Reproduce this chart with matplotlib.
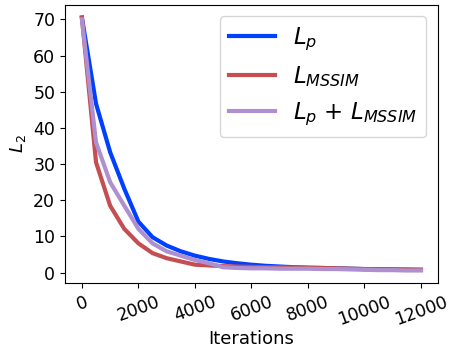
import numpy as np
import matplotlib.pyplot as plt

iters = [0, 500, 1000, 1500, 2000, 2500, 3000, 3500, 4000, 4500, 5000, 5500, 6000,
         6500, 7000, 7500, 8000, 8500, 9000, 9500, 10000, 10500, 11000, 11500, 12000]

loss_p = [70.5, 46.7, 33.3, 23.2, 14.1, 9.8, 7.5, 5.9, 4.7, 3.8, 3.1, 2.6, 2.2,
          1.9, 1.7, 1.5, 1.4, 1.3, 1.2, 1.1, 1.0, 0.9, 0.9, 0.8, 0.8]
loss_mssim = [70.5, 30.5, 18.5, 12.1, 8.1, 5.4, 4.0, 3.1, 2.2, 2.0, 1.8, 1.7, 1.6,
              1.5, 1.5, 1.4, 1.3, 1.3, 1.2, 1.1, 1.0, 1.0, 0.9, 0.9, 0.8]
loss_both = [70.0, 36.0, 25.0, 18.5, 12.1, 8.1, 5.9, 4.7, 3.5, 2.6, 1.5, 1.3, 1.2,
             1.2, 1.1, 1.1, 1.1, 1.0, 1.0, 0.9, 0.8, 0.7, 0.7, 0.6, 0.6]

labels = ['$L_p$', '$L_{MSSIM}$', '$L_p$ + $L_{MSSIM}$']

fig = plt.figure(figsize=(4.51, 3.5), dpi=100)
ax = fig.add_axes([0.144, 0.191, 0.827, 0.795])
ax.plot(iters, loss_p, color='#0040ff', lw=3, label=labels[0])
ax.plot(iters, loss_mssim, color='#c44e52', lw=3, label=labels[1])
ax.plot(iters, loss_both, color='#ae8fcf', lw=3, label=labels[2])

ax.set_xticks(range(0, 12001, 2000))
ax.tick_params(labelsize=12.5)
plt.setp(ax.get_xticklabels(), rotation=20)
ax.set_xlabel('Iterations', fontsize=13, labelpad=1)
ax.set_ylabel('$L_2$', fontsize=13)
ax.legend(fontsize=16.5, loc='upper right')

fig.savefig('out.png', dpi=100)
